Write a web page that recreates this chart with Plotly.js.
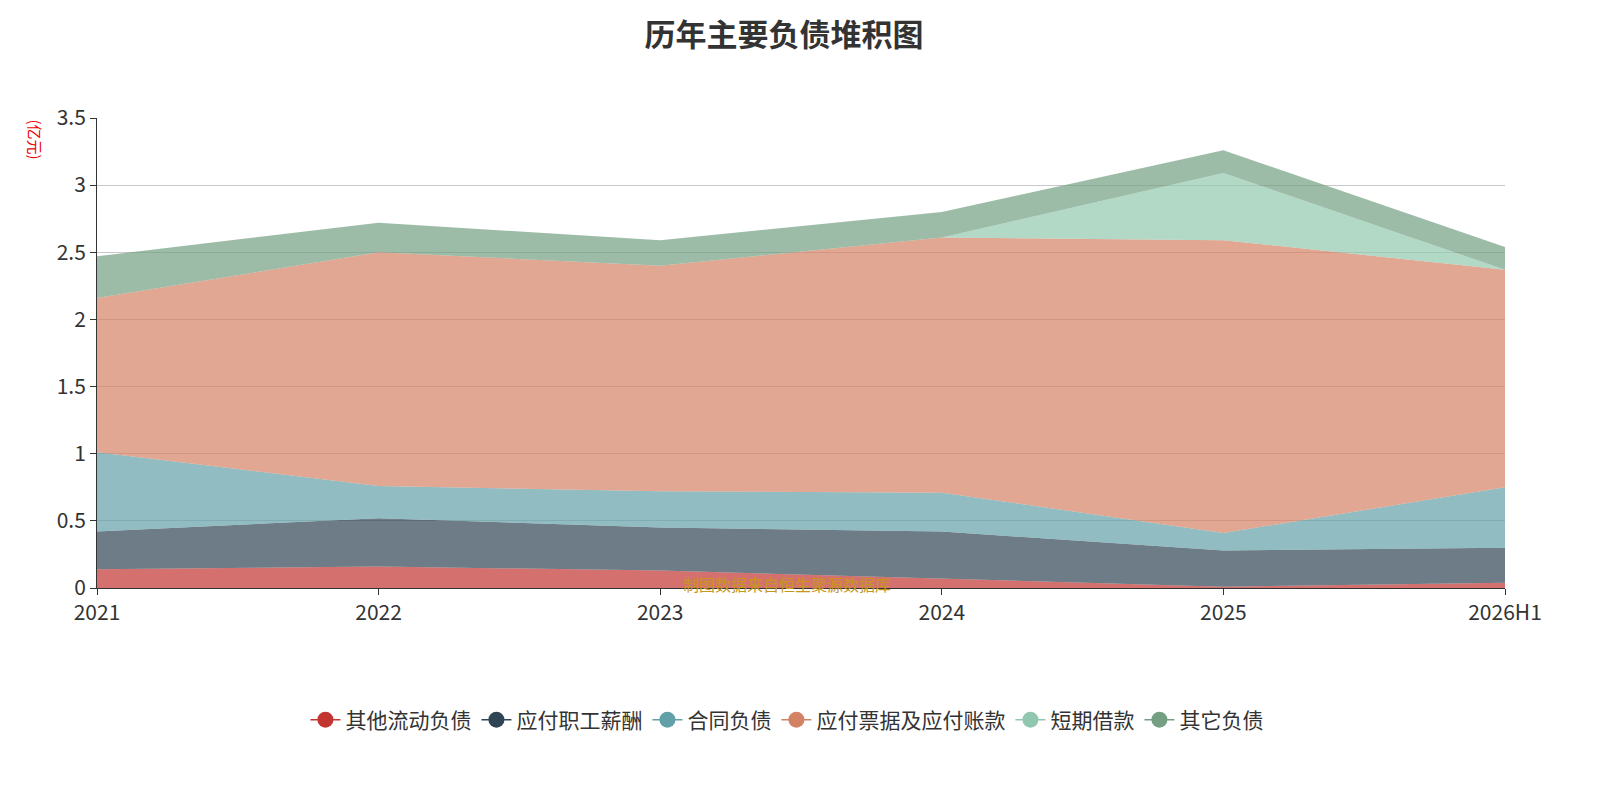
<!DOCTYPE html>
<html><head><meta charset="utf-8">
<script src="https://cdn.plot.ly/plotly-3.0.1.min.js"></script>
<style>body{margin:0;background:#fff}#chart{width:1600px;height:800px}</style>
</head><body><div id="chart"></div>
<script>
const years = ['2021', '2022', '2023', '2024', '2025', '2026H1'];
const otherCurrent = [0.14, 0.16, 0.13, 0.07, 0.01, 0.04];
const payroll = [0.28, 0.36, 0.32, 0.35, 0.27, 0.26];
const contract = [0.59, 0.24, 0.27, 0.29, 0.13, 0.45];
const payables = [1.15, 1.74, 1.68, 1.90, 2.18, 1.62];
const shortLoan = [0, 0, 0, 0, 0.50, 0];
const otherDebt = [0.31, 0.22, 0.19, 0.19, 0.17, 0.17];

const series = [
  { name: '其他流动负债', y: otherCurrent, color: '#c23531', fill: 'rgba(194,53,49,0.7)' },
  { name: '应付职工薪酬', y: payroll, color: '#2f4554', fill: 'rgba(47,69,84,0.7)' },
  { name: '合同负债', y: contract, color: '#61a0a8', fill: 'rgba(97,160,168,0.7)' },
  { name: '应付票据及应付账款', y: payables, color: '#d48265', fill: 'rgba(212,130,101,0.7)' },
  { name: '短期借款', y: shortLoan, color: '#91c7ae', fill: 'rgba(145,199,174,0.7)' },
  { name: '其它负债', y: otherDebt, color: '#749f83', fill: 'rgba(116,159,131,0.7)' },
];

const traces = [];
series.forEach(s => {
  traces.push({
    x: years, y: s.y, type: 'scatter', mode: 'lines', stackgroup: 'one',
    line: { width: 0, color: s.color }, fillcolor: s.fill,
    showlegend: false, hoverinfo: 'x+y+name', name: s.name,
  });
});
series.forEach(s => {
  traces.push({
    x: [null], y: [null], type: 'scatter', mode: 'lines+markers', name: s.name,
    line: { color: s.color, width: 1.5 }, marker: { color: s.color, size: 22 },
  });
});

Plotly.newPlot('chart', traces, {
  width: 1600, height: 800,
  paper_bgcolor: '#fff', plot_bgcolor: '#fff',
  font: { family: 'Noto Sans CJK SC, sans-serif', color: '#333' },
  margin: { t: 118, l: 97, r: 95, b: 212 },
  title: { text: '<b>历年主要负债堆积图</b>', x: 0.49, xanchor: 'center', y: 0.97, font: { size: 31, color: '#333' } },
  xaxis: {
    type: 'category', range: [0, 5], showgrid: false, automargin: false,
    showline: true, linecolor: '#333', ticks: 'outside', ticklen: 6, tickcolor: '#333',
    tickfont: { size: 21, color: '#333' },
  },
  yaxis: {
    range: [0, 3.5], dtick: 0.5, gridcolor: '#c8c8c8', zeroline: false, automargin: false,
    showline: true, linecolor: '#333', ticks: 'outside', ticklen: 6, tickcolor: '#333',
    tickfont: { size: 21, color: '#333' },
  },
  legend: {
    orientation: 'h', traceorder: 'normal', x: 0.49, xanchor: 'center',
    yref: 'container', y: 0.1, yanchor: 'middle',
    font: { size: 21, color: '#333' },
  },
  annotations: [
    { text: '(亿元)', xref: 'paper', yref: 'paper', x: -0.043, y: 1.0, xanchor: 'center', yanchor: 'top',
      textangle: 90, showarrow: false, font: { size: 15, color: '#e00' } },
    { text: '制图数据来自恒生聚源数据库', xref: 'paper', yref: 'container', x: 0.49, y: 0.033, yanchor: 'middle',
      showarrow: false, font: { size: 16, color: '#c8961e' } },
  ],
}, { displayModeBar: false });
</script></body></html>
